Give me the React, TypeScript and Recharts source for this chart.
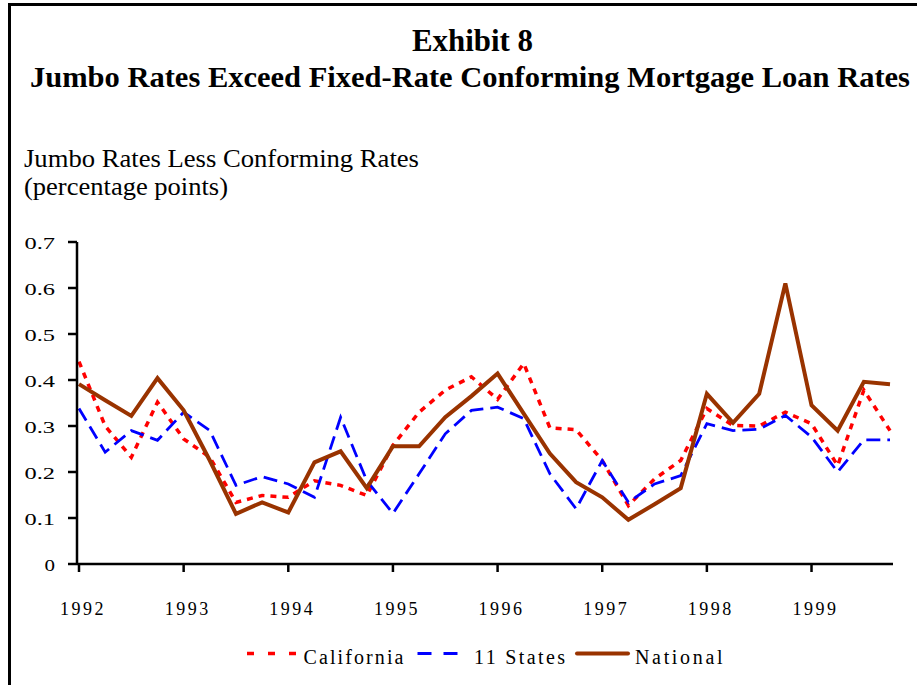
import React from 'react';
import { LineChart, Line, XAxis, YAxis } from 'recharts';

const quarters = [
  '1992Q1', '1992Q2', '1992Q3', '1992Q4',
  '1993Q1', '1993Q2', '1993Q3', '1993Q4',
  '1994Q1', '1994Q2', '1994Q3', '1994Q4',
  '1995Q1', '1995Q2', '1995Q3', '1995Q4',
  '1996Q1', '1996Q2', '1996Q3', '1996Q4',
  '1997Q1', '1997Q2', '1997Q3', '1997Q4',
  '1998Q1', '1998Q2', '1998Q3', '1998Q4',
  '1999Q1', '1999Q2', '1999Q3', '1999Q4',
];

const yearTicks = ['1992Q1', '1993Q1', '1994Q1', '1995Q1', '1996Q1', '1997Q1', '1998Q1', '1999Q1'];
const yTicks = [0, 0.1, 0.2, 0.3, 0.4, 0.5, 0.6, 0.7];

const california = [
  0.44, 0.30, 0.232, 0.352, 0.272, 0.232, 0.134, 0.149,
  0.145, 0.181, 0.171, 0.149, 0.258, 0.33, 0.378, 0.407,
  0.358, 0.436, 0.296, 0.292, 0.225, 0.127, 0.185, 0.225,
  0.338, 0.301, 0.30, 0.33, 0.305, 0.214, 0.378, 0.29,
];

const elevenStates = [
  0.338, 0.243, 0.29, 0.269, 0.33, 0.29, 0.171, 0.19,
  0.174, 0.145, 0.319, 0.181, 0.11, 0.196, 0.283, 0.334,
  0.341, 0.316, 0.196, 0.12, 0.225, 0.134, 0.174, 0.192,
  0.305, 0.29, 0.293, 0.323, 0.276, 0.20, 0.27, 0.27,
];

const national = [
  0.391, 0.356, 0.322, 0.404, 0.334, 0.225, 0.109, 0.134,
  0.112, 0.221, 0.245, 0.165, 0.256, 0.256, 0.319, 0.365,
  0.414, 0.327, 0.24, 0.178, 0.145, 0.096, 0.13, 0.165,
  0.37, 0.307, 0.37, 0.61, 0.345, 0.29, 0.396, 0.391,
];

const seriesNames = ['California', '11 States', 'National'];

const data = quarters.map((q, i) => ({
  quarter: q,
  california: california[i],
  elevenStates: elevenStates[i],
  national: national[i],
}));

const FONT = '"Liberation Serif", "Times New Roman", Times, serif';

const series = [
  { key: 'california', name: seriesNames[0], color: '#FF0000', width: 3.5, dash: '6 6', legendDash: '7 14' },
  { key: 'elevenStates', name: seriesNames[1], color: '#0000FF', width: 2.8, dash: '14 7', legendDash: '14 12' },
  { key: 'national', name: seriesNames[2], color: '#993300', width: 4, dash: undefined as string | undefined, legendDash: undefined as string | undefined },
];

const XTick = (props: any) => {
  const { x, y, payload } = props;
  return (
    <text x={x + 4} y={y} dy={13} textAnchor="middle" fill="#000" fontSize={18} fontFamily={FONT} letterSpacing={2.5}>
      {String(payload.value).slice(0, 4)}
    </text>
  );
};

const YTick = (props: any) => {
  const { x, y, payload } = props;
  const v = payload.value as number;
  const label = v === 0 ? '0' : v.toFixed(1);
  const len = v === 0 ? 10.5 : 30.5;
  return (
    <text
      x={x - 4 - len}
      y={y}
      dy={7}
      textAnchor="start"
      fill="#000"
      fontSize={16}
      fontFamily={FONT}
      textLength={len}
      lengthAdjust="spacingAndGlyphs"
    >
      {label}
    </text>
  );
};

const legendLayout = [
  { lineX1: 247, lineX2: 297, textX: 303.5, textLen: 100 },
  { lineX1: 417.5, lineX2: 459, textX: 474, textLen: 91 },
  { lineX1: 577, lineX2: 628, textX: 635, textLen: 87.5 },
];

export default function App() {
  return (
    <div style={{ position: 'fixed', left: 0, top: 0, width: 917, height: 685, overflow: 'hidden', background: '#fff' }}>
      <div style={{ position: 'absolute', left: 8, top: 3, width: 2000, height: 2000, borderLeft: '3px solid #000', borderTop: '3px solid #000' }} />
      <svg width={917} height={685} style={{ position: 'absolute', left: 0, top: 0 }}>
        <text x={472.5} y={51} textAnchor="middle" fontFamily={FONT} fontWeight="bold" fontSize={31} textLength={121} lengthAdjust="spacingAndGlyphs" fill="#000">
          Exhibit 8
        </text>
        <text x={30} y={87} fontFamily={FONT} fontWeight="bold" fontSize={30} textLength={880} lengthAdjust="spacingAndGlyphs" fill="#000">
          Jumbo Rates Exceed Fixed-Rate Conforming Mortgage Loan Rates
        </text>
        <text x={24} y={167} fontFamily={FONT} fontSize={25} textLength={395} lengthAdjust="spacingAndGlyphs" fill="#000">
          Jumbo Rates Less Conforming Rates
        </text>
        <text x={24} y={195} fontFamily={FONT} fontSize={25} textLength={204} lengthAdjust="spacingAndGlyphs" fill="#000">
          (percentage points)
        </text>
        {series.map((s, i) => (
          <g key={s.key}>
            <line
              x1={legendLayout[i].lineX1}
              x2={legendLayout[i].lineX2}
              y1={653.5}
              y2={653.5}
              stroke={s.color}
              strokeWidth={s.width}
              strokeDasharray={s.legendDash}
              strokeLinecap={s.dash ? 'butt' : 'round'}
            />
            <text x={legendLayout[i].textX} y={664} fontFamily={FONT} fontSize={20} textLength={legendLayout[i].textLen} lengthAdjust="spacing" fill="#000">
              {s.name}
            </text>
          </g>
        ))}
      </svg>
      <div style={{ position: 'absolute', left: 0, top: 0 }}>
        <LineChart width={917} height={685} data={data} margin={{ top: 242, right: 24, bottom: 0, left: 0 }}>
          <XAxis
            dataKey="quarter"
            ticks={yearTicks}
            interval={0}
            height={121}
            padding={{ left: 2, right: 3 }}
            axisLine={{ stroke: '#000', strokeWidth: 2.5 }}
            tickLine={{ stroke: '#000', strokeWidth: 2.5 }}
            tickSize={8}
            tickMargin={30}
            tick={<XTick />}
          />
          <YAxis
            domain={[0, 0.7]}
            ticks={yTicks}
            interval={0}
            width={77}
            axisLine={{ stroke: '#000', strokeWidth: 2.5 }}
            tickLine={{ stroke: '#000', strokeWidth: 2.5 }}
            tickSize={9}
            tickMargin={9}
            tick={<YTick />}
          />
          {series.map((s) => (
            <Line
              key={s.key}
              type="linear"
              dataKey={s.key}
              name={s.name}
              stroke={s.color}
              strokeWidth={s.width}
              strokeDasharray={s.dash}
              dot={false}
              activeDot={false}
              isAnimationActive={false}
            />
          ))}
        </LineChart>
      </div>
    </div>
  );
}
